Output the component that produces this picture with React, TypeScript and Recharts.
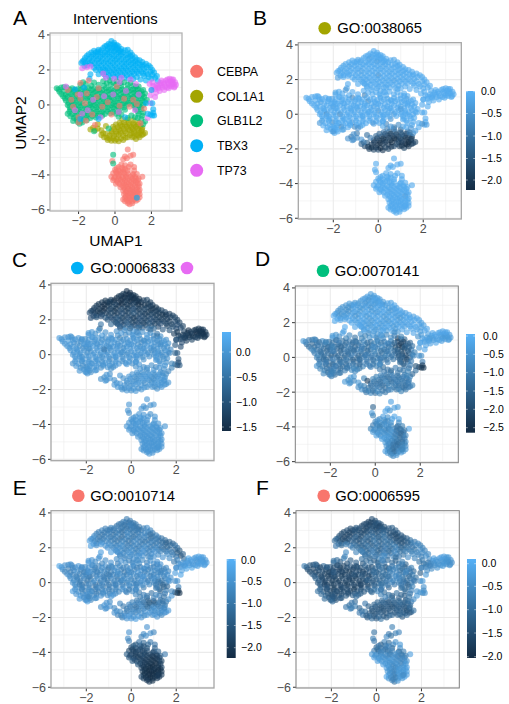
import React from "react";
import { ScatterChart, Scatter, XAxis, YAxis, CartesianGrid } from "recharts";

// Row layout: [UMAP1, UMAP2, GO:0038065, GO:0006833, GO:0070141, GO:0010714, GO:0006595]
type Row = number[];
const interventions = ["CEBPA", "COL1A1", "GLB1L2", "TBX3", "TP73"];
const interventionColors = ["#F8766D", "#A3A500", "#00BF7D", "#00B0F6", "#E76BF3"];

const tbx3: Row[] = [
[-0.2,3.65,-0.1,-1.5,-0.4,-0.9,-1.5],[-0.05,3.55,-0.1,-1.5,-0.3,-0.8,-1.4],
[-0.45,3.4,-0.1,-1.4,-0.5,-1.0,-1.6],[-0.25,3.45,-0.1,-1.5,-0.4,-0.9,-1.7],[0,3.4,-0.1,-1.5,-0.3,-0.8,-1.5],[0.2,3.35,-0.1,-1.4,-0.4,-0.9,-1.4],
[-0.9,3.15,-0.2,-1.3,-0.5,-0.7,-1.3],[-0.65,3.25,-0.1,-1.5,-0.6,-1.0,-1.6],[-0.4,3.2,-0.5,-1.5,-0.3,-0.9,-1.5],[-0.15,3.25,-0.1,-1.5,-0.5,-0.7,-1.7],[0.1,3.2,-0.1,-1.4,-0.2,-1.1,-1.6],[0.35,3.2,-0.1,-1.5,-0.4,-0.9,-1.4],[0.7,3.15,-0.2,-1.2,-0.3,-0.6,-1.2],
[-1.3,3.0,-0.1,-1.4,-0.5,-0.7,-1.4],[-1.05,3.0,-0.1,-1.5,-0.6,-0.9,-1.6],[-0.8,3.0,-0.2,-1.4,-0.4,-1.0,-1.5],[-0.55,3.0,-0.1,-1.5,-0.2,-0.8,-1.7],[-0.3,3.0,-0.1,-1.3,-0.5,-0.9,-1.3],[-0.05,3.05,-0.6,-1.5,-0.3,-1.1,-1.6],[0.2,3.0,-0.1,-1.4,-0.2,-0.8,-1.5],[0.45,3.0,-0.1,-1.5,-0.4,-0.9,-1.3],[0.75,2.9,-0.1,-1.4,-0.2,-0.7,-1.4],[0.95,2.85,-0.1,-1.3,-0.3,-0.9,-1.2],
[-1.55,2.8,-0.2,-1.3,-0.5,-0.8,-1.5],[-1.3,2.75,-0.3,-1.5,-0.7,-1.0,-1.7],[-1.05,2.8,-0.1,-1.4,-0.4,-0.8,-1.6],[-0.8,2.75,-0.1,-1.2,-0.3,-1.1,-1.3],[-0.55,2.8,-0.1,-1.5,-0.6,-0.7,-1.5],[-0.3,2.75,-0.1,-1.3,-0.3,-0.9,-1.1],[-0.05,2.8,-0.1,-1.4,-0.1,-0.8,-1.4],[0.2,2.75,-0.2,-1.2,-0.4,-1.0,-1.0],[0.45,2.75,-0.1,-1.4,-0.2,-0.7,-1.2],[0.7,2.7,-0.1,-1.3,-0.5,-0.9,-1.5],[0.95,2.65,-0.1,-1.5,-0.2,-1.1,-1.6],[1.2,2.6,-0.1,-1.3,-0.3,-0.8,-1.4],
[-1.7,2.55,-0.1,-1.3,-0.4,-0.4,-1.3],[-1.5,2.5,-0.2,-1.4,-0.6,-0.7,-1.6],[-1.25,2.5,-0.1,-1.5,-0.5,-0.9,-1.4],[-1,2.55,-0.1,-1.2,-0.2,-0.6,-1.2],[-0.75,2.5,-0.3,-1.4,-0.4,-0.9,-1.5],[-0.5,2.5,-0.1,-1.1,-0.3,-1.1,-1.0],[-0.25,2.5,-0.1,-1.4,-0.2,-0.8,-1.3],[0,2.55,-0.1,-1.0,-0.5,-1.0,-0.9],[0.25,2.5,-0.1,-1.3,-0.2,-0.7,-1.1],[0.5,2.45,-0.2,-1.2,-0.4,-0.9,-0.8],[0.75,2.45,-0.1,-1.4,-0.2,-1.0,-1.3],[1,2.4,-0.1,-1.3,-0.5,-0.7,-1.5],[1.25,2.4,-0.1,-1.4,-0.3,-1.0,-1.4],[1.5,2.45,-0.1,-1.2,-0.2,-1.1,-0.9],[1.7,2.35,-0.1,-1.3,-0.3,-1.2,-0.8],
[-1.85,2.4,-0.1,-1.1,-0.1,-0.3,-1.0],[-1.55,2.25,-0.1,-1.2,-0.4,-0.8,-1.2],[-1.3,2.3,-0.1,-1.0,-0.3,-0.4,-1.3],[-1.0,2.25,-0.1,-1.2,-0.2,-0.5,-0.9],[-0.75,2.25,-0.2,-1.3,-0.4,-0.8,-1.4],[-0.5,2.2,-0.1,-1.0,-0.2,-0.6,-1.0],[-0.25,2.25,-0.1,-1.3,-0.5,-0.9,-1.3],[0,2.25,-0.7,-1.2,-0.3,-1.0,-0.8],[0.25,2.2,-0.1,-1.3,-0.2,-0.6,-1.2],[0.5,2.2,-0.1,-1.1,-0.5,-0.9,-1.0],[0.75,2.2,-0.1,-1.3,-0.2,-0.7,-0.7],[1,2.15,-0.1,-1.2,-0.4,-1.0,-1.2],[1.25,2.15,-0.1,-1.3,-0.3,-0.8,-1.3],[1.5,2.2,-0.1,-1.4,-0.1,-1.2,-1.0],[1.75,2.15,-0.1,-1.3,-0.2,-1.1,-0.6],[1.95,2.15,-0.1,-1.2,-0.3,-0.9,-0.7],
[-1.05,2.0,-0.1,-0.9,-0.1,-0.4,-0.7],[-0.8,2,-0.1,-1.1,-0.3,-0.7,-0.9],[-0.55,2,-0.1,-0.9,-0.2,-0.5,-1.2],[-0.3,1.95,-0.1,-1.2,-0.4,-0.8,-1.0],[-0.05,2,-0.1,-1.0,-0.2,-0.6,-0.7],[0.2,1.95,-0.1,-1.3,-0.5,-0.9,-1.3],[0.45,1.95,-0.1,-1.1,-0.3,-0.5,-0.8],[0.7,1.95,-0.3,-1.2,-0.2,-0.8,-1.1],[0.95,1.9,-0.1,-1.1,-0.4,-0.6,-0.6],[1.2,1.9,-0.1,-1.3,-0.2,-0.9,-1.0],[1.45,1.9,-0.1,-1.2,-0.3,-1.2,-0.8],[1.7,1.9,-0.1,-1.3,-0.1,-1.0,-0.9],[1.95,1.9,-0.1,-1.1,-0.2,-1.3,-0.5],[2.15,1.85,-0.1,-1.2,-0.3,-1.5,-0.6],
[-1.35,1.75,-0.1,-0.5,-0.1,-0.3,-0.5],[-1.4,1.5,-0.2,-0.7,-0.2,-0.4,-0.6],[-0.9,1.75,-0.1,-0.7,-0.2,-0.3,-0.6],[-0.6,1.75,-0.1,-0.9,-0.3,-0.5,-0.8],[-0.35,1.7,-0.1,-1.1,-0.4,-0.7,-1.1],[-0.1,1.75,-0.1,-0.8,-0.2,-0.4,-0.6],[0.15,1.7,-0.1,-1.1,-0.5,-0.8,-1.2],[0.4,1.7,-0.1,-1.0,-0.3,-0.5,-0.7],[0.65,1.7,-0.1,-1.2,-0.2,-0.7,-1.0],[0.9,1.65,-0.1,-0.9,-0.4,-0.5,-0.5],[1.2,1.6,-0.1,-1.1,-0.2,-0.6,-0.9],[1.6,1.65,-0.1,-1.2,-0.2,-0.6,-0.5],[1.85,1.6,-0.1,-1.0,-0.3,-0.8,-0.6],[2.2,1.55,-0.1,-1.1,-0.2,-1.7,-0.4],[2.35,1.35,-0.1,-1.2,-0.3,-1.2,-0.5],
];

const tbx3Extra: Row[] = [
[-0.35,3.5,-0.1,-1.4,-0.3,-0.8,-1.6],[-0.1,3.45,-0.1,-1.5,-0.4,-1.0,-1.5],[0.1,3.42,-0.1,-1.4,-0.3,-0.9,-1.3],
[-0.75,3.12,-0.1,-1.5,-0.4,-0.8,-1.4],[-0.55,3.35,-0.1,-1.4,-0.3,-0.9,-1.5],[-0.3,3.3,-0.1,-1.5,-0.5,-1.0,-1.6],[-0.05,3.3,-0.1,-1.4,-0.2,-0.8,-1.4],[0.15,3.25,-0.1,-1.5,-0.3,-0.9,-1.6],[0.32,3.05,-0.1,-1.4,-0.6,-1.1,-1.4],[0.55,3.12,-0.1,-1.3,-0.3,-0.8,-1.3],
[-1.15,3.1,-0.1,-1.4,-0.4,-0.8,-1.5],[-0.95,3.05,-0.1,-1.3,-0.3,-0.9,-1.4],[-0.45,3.1,-0.1,-1.5,-0.5,-0.9,-1.6],[-0.2,3.12,-0.1,-1.4,-0.3,-1.0,-1.4],[0.02,3.12,-0.1,-1.5,-0.4,-0.8,-1.5],[0.25,3.1,-0.1,-1.4,-0.2,-0.9,-1.3],[0.85,3.0,-0.1,-1.3,-0.2,-0.7,-1.3],
[-1.45,2.9,-0.1,-1.4,-0.5,-0.8,-1.5],[-1.2,2.88,-0.1,-1.5,-0.6,-0.9,-1.6],[-0.95,2.9,-0.1,-1.4,-0.3,-0.8,-1.4],[-0.68,2.88,-0.1,-1.3,-0.4,-0.9,-1.5],[-0.42,2.9,-0.1,-1.5,-0.3,-1.0,-1.4],[-0.18,2.88,-0.1,-1.4,-0.5,-0.7,-1.2],[0.08,2.9,-0.1,-1.3,-0.3,-0.9,-1.3],[0.32,2.88,-0.1,-1.5,-0.2,-0.8,-1.1],[0.6,2.85,-0.1,-1.4,-0.4,-0.7,-1.4],[0.85,2.78,-0.1,-1.3,-0.3,-1.0,-1.5],[1.1,2.72,-0.1,-1.4,-0.2,-0.8,-1.3],
[-1.65,2.68,-0.1,-1.3,-0.6,-0.6,-1.4],[-1.42,2.62,-0.1,-1.4,-0.5,-0.9,-1.6],[-1.18,2.65,-0.1,-1.5,-0.6,-0.8,-1.5],[-0.92,2.62,-0.1,-1.3,-0.3,-0.9,-1.2],[-0.68,2.65,-0.1,-1.4,-0.4,-0.8,-1.4],[-0.42,2.62,-0.1,-1.2,-0.2,-1.0,-1.1],[-0.15,2.65,-0.1,-1.3,-0.4,-0.7,-1.0],[0.1,2.62,-0.1,-1.1,-0.3,-0.9,-1.2],[0.35,2.62,-0.1,-1.3,-0.2,-0.8,-0.9],[0.6,2.6,-0.1,-1.2,-0.4,-0.7,-1.3],[0.88,2.55,-0.1,-1.4,-0.3,-1.0,-1.5],[1.12,2.5,-0.1,-1.3,-0.2,-0.9,-1.4],[1.35,2.55,-0.1,-1.2,-0.3,-1.0,-1.2],[1.55,2.3,-0.1,-1.3,-0.2,-1.3,-0.7],
[-1.78,2.5,-0.1,-1.2,-0.3,-0.5,-1.1],[-1.62,2.38,-0.1,-1.3,-0.5,-0.7,-1.4],[-1.38,2.4,-0.1,-1.4,-0.4,-0.8,-1.5],[-1.12,2.38,-0.1,-1.3,-0.3,-0.7,-1.2],[-0.88,2.4,-0.1,-1.2,-0.5,-0.8,-1.3],[-0.62,2.38,-0.1,-1.3,-0.2,-0.9,-1.1],[-0.38,2.38,-0.1,-1.1,-0.4,-0.7,-1.2],[-0.12,2.4,-0.1,-1.2,-0.2,-0.9,-0.9],[0.12,2.38,-0.1,-1.0,-0.3,-0.7,-1.1],[0.38,2.35,-0.1,-1.2,-0.4,-0.8,-0.9],[0.62,2.35,-0.1,-1.3,-0.2,-0.9,-1.0],[0.88,2.32,-0.1,-1.2,-0.3,-0.8,-1.3],[1.12,2.28,-0.1,-1.3,-0.4,-0.9,-1.4],[1.38,2.3,-0.1,-1.4,-0.2,-1.1,-1.2],[1.6,2.05,-0.1,-1.3,-0.2,-1.2,-0.8],[1.85,2.25,-0.1,-1.2,-0.2,-1.2,-0.6],[2.05,2.0,-0.1,-1.2,-0.3,-1.1,-0.6],
[-1.68,2.22,-0.1,-1.1,-0.2,-0.4,-1.0],[-1.15,2.12,-0.1,-1.0,-0.2,-0.5,-0.8],[-0.9,2.12,-0.1,-1.1,-0.3,-0.6,-1.0],[-0.65,2.1,-0.1,-1.0,-0.2,-0.7,-1.1],[-0.4,2.1,-0.1,-1.2,-0.3,-0.6,-0.9],[-0.15,2.12,-0.1,-1.1,-0.4,-0.8,-1.1],[0.1,2.1,-0.1,-1.3,-0.2,-0.7,-1.0],[0.35,2.08,-0.1,-1.1,-0.3,-0.8,-0.8],[0.6,2.08,-0.1,-1.2,-0.4,-0.6,-0.9],[0.85,2.05,-0.1,-1.1,-0.2,-0.8,-0.7],[1.1,2.02,-0.1,-1.2,-0.3,-0.7,-1.1],[1.35,2.02,-0.1,-1.3,-0.2,-1.0,-0.9],
[-0.7,1.88,-0.1,-1.0,-0.2,-0.5,-0.9],[-0.45,1.85,-0.1,-1.1,-0.3,-0.6,-1.0],[-0.2,1.85,-0.1,-0.9,-0.4,-0.7,-0.8],[0.05,1.85,-0.1,-1.2,-0.2,-0.6,-1.1],[0.3,1.82,-0.1,-1.1,-0.3,-0.7,-0.8],[0.55,1.82,-0.1,-1.2,-0.2,-0.5,-1.0],[0.8,1.8,-0.1,-1.0,-0.4,-0.7,-0.6],[1.05,1.78,-0.1,-1.2,-0.2,-0.5,-0.9],[1.3,1.78,-0.1,-1.1,-0.3,-0.7,-0.7],[1.55,1.78,-0.1,-1.2,-0.2,-0.8,-0.7],[1.8,1.75,-0.1,-1.2,-0.2,-0.9,-0.6],[2.05,1.72,-0.1,-1.1,-0.3,-1.4,-0.5],[2.3,1.65,-0.1,-1.2,-0.2,-1.3,-0.5],
[-0.5,1.62,-0.1,-0.8,-0.3,-0.5,-0.8],[-0.25,1.55,-0.1,-0.7,-0.2,-0.6,-0.7],[0,1.6,-0.1,-0.9,-0.4,-0.5,-0.9],[0.25,1.55,-0.1,-0.8,-0.3,-0.6,-0.6],[0.5,1.55,-0.1,-0.9,-0.4,-0.5,-0.8],[0.75,1.5,-0.1,-0.6,-0.2,-0.7,-0.6],[1.0,1.48,-0.1,-0.7,-0.5,-0.5,-0.8],[1.4,1.45,-0.1,-0.9,-0.3,-0.5,-0.5],[1.7,1.4,-0.1,-1.0,-0.2,-0.6,-0.6],[2.0,1.5,-0.1,-1.1,-0.3,-1.0,-0.6],
];

const glb1l2: Row[] = [
[-0.65,1.35,-0.1,-0.1,-0.6,-0.6,-0.9],[-0.3,1.4,-0.1,-0.1,-0.7,-0.7,-1.1],[0.1,1.35,-0.1,0,-0.5,-0.5,-0.7],[0.5,1.3,-0.1,-0.1,-0.8,-0.6,-1.0],
[-1.9,1.15,-0.1,0,-0.5,-0.4,-1.1],[-1.6,1.2,-0.1,-0.1,-0.7,-0.6,-1.3],[-1.3,1.1,-0.1,0.1,-0.9,-0.7,-1.4],[-0.9,1.15,-0.1,0,-1.2,-0.5,-1.2],[-0.6,1.1,-0.8,-0.1,-0.9,-0.8,-1.3],[-0.25,1.15,-0.1,-0.2,-0.6,-0.6,-0.9],[0.05,1.15,-0.1,0,-0.8,-0.7,-1.1],[0.35,1.1,-0.1,-0.1,-0.6,-0.6,-0.8],[0.7,1.15,-0.1,0,-0.7,-0.8,-1.0],[1.0,1.1,-0.1,-0.2,-2.4,-0.6,-0.9],[1.3,1.05,-0.1,-0.1,-1.5,-0.5,-1.1],
[-3.2,0.95,-0.1,0.1,-0.4,-0.2,-0.7],[-2.95,1.0,-0.1,0,-1.0,-0.5,-1.3],[-2.65,1.0,-0.1,-0.1,-1.2,-0.7,-1.5],[-2.35,0.95,-0.1,0,-0.6,-0.4,-1.0],[-2.05,0.9,-0.3,-0.1,-1.1,-0.6,-1.3],[-1.75,1.0,-0.1,0.1,-1.3,-0.5,-1.5],[-1.45,0.95,-0.1,0,-1.2,-0.7,-1.6],[-1.15,0.95,-0.7,-0.1,-1.0,-0.5,-1.3],[-0.85,0.9,-0.1,-0.1,-1.4,-0.8,-1.5],[-0.5,0.95,-0.1,-0.3,-0.8,-0.6,-1.1],[-0.2,0.9,-0.1,0,-1.1,-0.7,-1.4],[0.1,0.95,-0.1,-0.1,-0.7,-0.5,-0.9],[0.4,0.9,-0.2,-0.1,-1.0,-0.8,-1.3],[0.7,0.95,-0.1,0,-0.8,-0.5,-0.8],[1.0,0.9,-0.1,-0.2,-2.0,-0.7,-0.7],[1.25,0.9,-0.3,-0.1,-2.2,-0.5,-1.2],[1.55,0.85,-0.1,-0.1,-1.4,-0.6,-0.7],
[-3.05,0.75,-0.1,0,-1.2,-0.6,-1.5],[-2.8,0.8,-0.1,0.1,-1.4,-0.8,-1.6],[-2.55,0.7,-0.3,0,-1.0,-0.5,-1.3],[-2.25,0.75,-0.1,-0.1,-1.3,-0.7,-1.6],[-1.95,0.7,-0.1,0,-0.9,-0.5,-1.4],[-1.65,0.75,-0.1,-0.1,-1.4,-0.8,-1.6],[-1.35,0.7,-0.1,0,-1.2,-0.6,-1.7],[-1.05,0.75,-0.1,-0.1,-1.0,-0.7,-1.5],[-0.75,0.7,-0.1,0.1,-1.3,-0.5,-1.6],[-0.45,0.75,-0.7,0,-0.9,-0.8,-1.4],[-0.15,0.7,-0.1,-0.1,-1.2,-0.6,-1.2],[0.15,0.75,-0.1,0,-0.8,-0.7,-1.0],[0.45,0.7,-0.1,-0.2,-1.0,-0.5,-1.2],[0.75,0.75,-0.1,-0.1,-1.2,-0.8,-0.6],[1.05,0.7,-0.1,0,-2.3,-0.6,-0.9],[1.35,0.7,-0.1,-0.1,-1.8,-0.9,-0.7],[1.65,0.65,-0.1,-0.1,-1.2,-0.7,-1.0],
[-2.85,0.5,-0.1,0,-0.8,-0.5,-1.2],[-2.6,0.45,-0.1,0,-1.1,-0.7,-1.5],[-2.3,0.5,-0.1,-0.1,-1.4,-0.9,-1.7],[-2.0,0.45,-0.5,0,-1.2,-0.6,-1.6],[-1.7,0.5,-0.1,0.1,-1.5,-0.8,-1.5],[-1.4,0.45,-0.1,0,-1.1,-0.6,-1.7],[-1.1,0.5,-0.1,-0.1,-1.3,-0.9,-1.6],[-0.8,0.45,-0.1,0,-1.0,-0.7,-1.4],[-0.5,0.5,-0.1,-0.1,-1.4,-0.6,-1.6],[-0.2,0.45,-0.3,0,-1.1,-0.8,-1.3],[0.1,0.5,-0.1,0,-0.9,-0.5,-1.1],[0.4,0.45,-0.1,-0.1,-1.2,-0.7,-0.9],[0.7,0.5,-0.1,0,-0.9,-0.6,-0.6],[1.0,0.45,-0.2,-0.1,-1.7,-0.8,-0.8],[1.3,0.5,-0.1,0,-2.3,-0.6,-1.0],[1.6,0.45,-0.1,-0.1,-1.0,-0.5,-0.7],[1.75,0.3,-0.1,-0.2,-0.9,-0.5,-0.9],
[-2.7,0.25,-0.1,0,-1.0,-0.6,-1.1],[-2.4,0.2,-0.1,0.1,-1.3,-0.8,-1.5],[-2.1,0.25,-0.1,0,-1.1,-0.7,-1.6],[-1.8,0.2,-0.1,-0.1,-1.4,-0.9,-1.7],[-1.5,0.25,-0.1,0,-1.2,-0.6,-1.5],[-1.2,0.2,-0.1,0,-1.5,-0.8,-1.7],[-0.9,0.25,-0.3,-0.1,-1.0,-0.7,-1.6],[-0.6,0.2,-0.1,0,-1.3,-0.9,-1.5],[-0.3,0.25,-0.1,0.1,-1.1,-0.6,-1.4],[0,0.2,-0.6,0,-0.9,-0.8,-1.2],[0.3,0.25,-0.1,-0.1,-1.3,-0.6,-1.0],[0.6,0.2,-0.1,0,-1.0,-0.7,-0.7],[0.9,0.25,-0.1,-0.2,-1.2,-0.5,-0.5],[1.2,0.2,-0.1,-0.1,-2.1,-0.8,-1.1],[1.5,0.25,-0.1,0,-1.4,-0.6,-0.8],
[-2.6,0,-0.1,0,-0.9,-0.5,-1.3],[-2.3,0.02,-0.8,-0.1,-1.2,-0.8,-1.6],[-2.0,-0.03,-0.1,0,-1.4,-0.9,-1.7],[-1.7,0,-0.9,0,-1.1,-0.7,-1.6],[-1.4,-0.02,-0.1,-0.1,-1.5,-1.0,-1.7],[-1.1,0,-0.1,0,-1.2,-0.7,-1.5],[-0.8,-0.03,-0.1,0.1,-1.4,-0.8,-1.7],[-0.5,0.02,-0.1,0,-1.0,-0.6,-1.5],[-0.2,0,-0.1,-0.1,-1.2,-0.9,-1.3],[0.1,-0.03,-0.1,0,-0.9,-0.6,-1.1],[0.4,0,-0.2,-0.1,-1.3,-0.7,-0.9],[0.7,0.02,-0.4,0,-1.0,-0.5,-0.5],[1.0,0,-0.1,-0.1,-1.4,-0.7,-0.6],[1.3,-0.02,-0.1,-0.2,-1.9,-1.4,-1.2],[1.55,0,-0.1,-0.1,-1.6,-0.8,-0.7],
[-2.45,-0.25,-0.1,0,-1.0,-0.6,-1.2],[-2.15,-0.25,-0.1,0,-1.3,-0.8,-1.6],[-1.85,-0.28,-0.1,-0.1,-1.1,-0.9,-1.7],[-1.55,-0.25,-0.1,0,-1.4,-0.7,-1.5],[-1.25,-0.22,-0.1,0,-1.2,-1.0,-1.6],[-0.95,-0.25,-0.1,-0.4,-1.5,-0.7,-1.7],[-0.65,-0.28,-0.1,0,-1.0,-0.8,-1.5],[-0.35,-0.25,-0.1,0,-1.2,-0.5,-1.4],[-0.05,-0.22,-0.1,-0.1,-0.9,-0.7,-1.0],[0.25,-0.25,-0.1,0,-1.2,-0.6,-0.7],[0.55,-0.28,-0.5,-0.1,-1.0,-0.9,-1.1],[1.15,-0.25,-0.1,0,-2.0,-1.0,-0.9],[1.45,-0.25,-0.1,-0.1,-1.3,-1.5,-1.1],
[-2.6,-0.5,-0.4,-0.1,-0.5,-0.3,-0.9],[-2.35,-0.52,-0.1,0,-1.1,-0.6,-1.4],[-2.05,-0.48,-0.7,0,-1.4,-0.8,-1.6],[-1.75,-0.5,-0.1,-0.1,-1.2,-0.7,-1.7],[-1.45,-0.52,-0.1,0,-1.3,-0.9,-1.5],[-1.15,-0.48,-0.4,0,-1.0,-0.6,-1.6],[-0.85,-0.5,-0.1,-0.1,-1.2,-0.8,-1.4],[-0.55,-0.52,-0.1,0,-0.9,-0.7,-1.3],[-0.25,-0.48,-0.3,0,-0.8,-0.5,-1.0],[0.05,-0.5,-0.1,-0.1,-0.9,-0.6,-0.6],[0.35,-0.55,-0.7,0,-1.3,-0.9,-1.0],[1.3,-0.5,-0.2,0,-1.2,-1.3,-1.1],[1.55,-0.45,-0.1,-0.1,-1.0,-0.9,-0.6],
[-2.25,-0.75,-0.1,-0.1,-0.9,-0.3,-1.1],[-1.95,-0.78,-0.1,0,-1.3,-0.6,-1.5],[-1.65,-0.72,-0.9,0,-1.1,-0.7,-1.5],[-1.35,-0.75,-0.1,-0.1,-1.0,-0.5,-1.3],[-1.05,-0.72,-0.7,0,-0.8,-0.6,-1.2],
[-2.05,-0.98,-0.1,0,-1.1,-0.5,-1.2],[-1.8,-1.0,-0.1,-0.1,-1.3,-0.7,-1.4],[-2.3,-0.92,-0.1,0,-0.8,-0.4,-1.0],[-1.95,-1.08,-0.1,0,-1.0,-0.3,-1.0],
[0.9,-0.6,-0.6,-0.1,-1.0,-1.0,-0.9],[1.1,-0.7,-0.2,-0.2,-1.2,-0.7,-1.1],[0.7,-0.75,-0.9,-0.1,-1.4,-0.9,-1.2],
[-1.15,-1.5,-0.5,0,-0.6,-0.5,-0.7],[-0.35,-1.35,-0.9,-0.1,-2.2,-0.9,-1.2],[1.55,-1.1,-0.6,-0.1,-0.8,-0.9,-0.8],[1.65,-0.95,-0.3,-0.2,-1.4,-0.6,-0.5],
[-0.1,-2.85,-0.1,0,-1.5,-0.5,-0.9],[-0.1,-3.35,-0.1,-0.1,-0.9,-0.8,-0.8],
];

const glb1l2Extra: Row[] = [
[-1.75,1.3,-0.1,0,-0.6,-0.5,-1.0],[-1.15,1.28,-0.1,-0.1,-0.8,-0.6,-1.2],[-0.45,1.25,-0.1,0,-0.9,-0.5,-1.0],[-0.1,1.27,-0.1,-0.1,-0.5,-0.7,-1.2],[0.3,1.25,-0.1,0,-0.7,-0.6,-0.8],[0.85,1.25,-0.1,-0.1,-1.0,-0.5,-1.1],[1.15,1.05,-0.1,-0.2,-1.7,-0.7,-0.8],
[-3.1,0.88,-0.1,0,-0.8,-0.4,-1.2],[-2.8,1.02,-0.1,0,-1.1,-0.6,-1.4],[-2.5,0.88,-0.1,0,-1.3,-0.5,-1.6],[-2.2,0.85,-0.1,-0.1,-0.9,-0.7,-1.4],[-1.9,0.85,-0.1,0,-1.2,-0.5,-1.5],[-1.6,0.85,-0.1,0,-1.0,-0.8,-1.7],[-1.3,0.85,-0.1,-0.1,-1.3,-0.6,-1.5],[-1.0,0.85,-0.1,0,-1.4,-0.9,-1.6],[-0.7,0.85,-0.1,0,-1.1,-0.6,-1.4],[-0.35,0.85,-0.1,-0.1,-1.3,-0.7,-1.3],[-0.05,0.82,-0.1,0,-0.9,-0.6,-1.1],[0.25,0.85,-0.1,0,-1.1,-0.8,-0.9],[0.55,0.82,-0.1,-0.1,-0.7,-0.5,-1.1],[0.85,0.85,-0.1,0,-1.5,-0.7,-0.7],[1.15,0.8,-0.1,-0.1,-2.1,-0.6,-0.9],[1.45,0.78,-0.1,0,-1.6,-0.8,-0.8],
[-2.95,0.62,-0.1,0,-1.2,-0.7,-1.5],[-2.7,0.6,-0.1,0,-1.3,-0.8,-1.6],[-2.4,0.62,-0.1,-0.1,-1.1,-0.6,-1.5],[-2.1,0.6,-0.1,0,-1.4,-0.9,-1.7],[-1.8,0.62,-0.1,0,-1.2,-0.6,-1.6],[-1.5,0.6,-0.1,-0.1,-1.5,-0.9,-1.6],[-1.2,0.62,-0.1,0,-1.1,-0.7,-1.7],[-0.9,0.6,-0.1,0,-1.4,-0.8,-1.5],[-0.6,0.62,-0.1,-0.1,-1.0,-0.6,-1.6],[-0.3,0.6,-0.1,0,-1.3,-0.9,-1.3],[0,0.6,-0.1,0,-1.0,-0.7,-1.2],[0.3,0.58,-0.1,-0.1,-0.8,-0.5,-0.9],[0.6,0.62,-0.1,0,-1.2,-0.8,-0.7],[0.9,0.58,-0.1,0,-1.9,-0.6,-0.6],[1.2,0.6,-0.1,-0.1,-2.4,-0.7,-0.9],[1.5,0.58,-0.1,0,-1.5,-0.6,-0.8],
[-2.75,0.38,-0.1,0,-0.9,-0.6,-1.3],[-2.45,0.35,-0.1,0,-1.2,-0.8,-1.6],[-2.15,0.38,-0.1,-0.1,-1.4,-0.7,-1.7],[-1.85,0.35,-0.1,0,-1.1,-0.9,-1.6],[-1.55,0.38,-0.1,0,-1.5,-0.7,-1.7],[-1.25,0.35,-0.1,-0.1,-1.2,-0.8,-1.5],[-0.95,0.38,-0.1,0,-1.4,-0.6,-1.7],[-0.65,0.35,-0.1,0,-1.1,-0.8,-1.4],[-0.35,0.38,-0.1,-0.1,-1.3,-0.7,-1.5],[-0.05,0.35,-0.1,0,-0.9,-0.6,-1.1],[0.25,0.38,-0.1,0,-1.2,-0.7,-1.0],[0.55,0.35,-0.1,-0.1,-1.0,-0.5,-0.8],[0.85,0.38,-0.1,0,-1.4,-0.8,-0.5],[1.15,0.35,-0.1,0,-1.8,-0.6,-0.7],[1.45,0.38,-0.1,-0.1,-1.7,-0.7,-1.0],[1.65,0.15,-0.1,0,-1.1,-0.6,-0.8],
[-2.55,0.12,-0.1,0,-0.9,-0.6,-1.3],[-2.25,0.1,-0.1,0,-1.3,-0.8,-1.6],[-1.95,0.12,-0.1,-0.1,-1.5,-0.9,-1.7],[-1.35,0.1,-0.1,0,-1.3,-0.7,-1.6],[-1.05,0.12,-0.1,-0.1,-1.0,-0.9,-1.7],[-0.75,0.1,-0.1,0,-1.4,-0.7,-1.6],[-0.45,0.12,-0.1,0,-1.2,-0.8,-1.5],[-0.15,0.1,-0.1,-0.1,-1.0,-0.6,-1.3],[0.15,0.12,-0.1,0,-1.2,-0.7,-1.1],[0.45,0.1,-0.1,0,-0.9,-0.5,-0.8],[0.75,0.12,-0.1,-0.1,-1.2,-0.8,-0.6],[1.05,0.1,-0.1,0,-1.7,-0.7,-0.7],[1.35,0.12,-0.1,-0.1,-2.0,-0.9,-1.0],
[-2.5,-0.12,-0.1,0,-1.1,-0.6,-1.3],[-2.2,-0.13,-0.1,-0.1,-1.3,-0.9,-1.6],[-1.9,-0.12,-0.1,0,-1.0,-0.7,-1.7],[-1.6,-0.13,-0.1,0,-1.4,-1.0,-1.6],[-1.3,-0.12,-0.1,-0.1,-1.1,-0.7,-1.7],[-1.0,-0.13,-0.1,0,-1.5,-0.9,-1.6],[-0.7,-0.13,-0.1,0,-1.2,-0.6,-1.6],[-0.4,-0.12,-0.1,-0.1,-1.0,-0.8,-1.5],[-0.1,-0.13,-0.1,0,-1.2,-0.6,-1.2],[0.2,-0.12,-0.1,0,-1.0,-0.8,-0.9],[0.5,-0.13,-0.1,-0.1,-1.2,-0.6,-0.8],[1.1,-0.12,-0.1,0,-1.6,-0.9,-0.8],[1.4,-0.12,-0.1,-0.1,-2.0,-1.2,-1.1],
[-2.5,-0.38,-0.2,0,-0.9,-0.5,-1.1],[-2.2,-0.38,-0.1,-0.1,-1.2,-0.8,-1.5],[-1.9,-0.4,-0.1,0,-1.4,-0.6,-1.7],[-1.6,-0.38,-0.1,0,-1.1,-0.9,-1.6],[-1.3,-0.4,-0.1,-0.1,-1.3,-0.7,-1.5],[-1.0,-0.38,-0.1,0,-1.1,-0.8,-1.7],[-0.7,-0.4,-0.1,0,-1.4,-0.7,-1.4],[-0.4,-0.38,-0.1,-0.1,-1.0,-0.6,-1.2],[-0.1,-0.4,-0.1,0,-1.1,-0.8,-0.9],[0.2,-0.4,-0.1,0,-0.8,-0.5,-0.8],[1.25,-0.38,-0.1,-0.1,-1.7,-1.1,-1.0],[1.5,-0.62,-0.1,0,-1.2,-0.8,-0.8],
[-2.45,-0.65,-0.1,0,-0.9,-0.5,-1.0],[-2.15,-0.63,-0.1,-0.1,-1.2,-0.7,-1.4],[-1.85,-0.65,-0.1,0,-1.0,-0.6,-1.6],[-1.55,-0.63,-0.1,0,-1.3,-0.8,-1.5],[-1.25,-0.63,-0.1,-0.1,-1.1,-0.6,-1.4],[-0.95,-0.62,-0.1,0,-0.9,-0.7,-1.3],[-0.7,-0.62,-0.1,0,-1.2,-0.6,-1.2],[0.2,-0.68,-0.2,-0.1,-1.1,-0.7,-0.7],[1.25,-0.75,-0.1,0,-1.1,-0.8,-1.2],[1.45,-0.8,-0.4,-0.1,-0.9,-1.0,-0.9],
[-2.1,-0.85,-0.1,0,-1.2,-0.6,-1.3],[-1.85,-0.9,-0.1,-0.1,-1.0,-0.6,-1.4],[-1.55,-0.88,-0.3,0,-1.1,-0.5,-1.3],
];

const col1a1: Row[] = [
[-1.35,-1.4,-0.5,-0.1,-0.4,-0.6,-0.8],[-1.2,-1.3,-0.9,-0.1,-0.7,-0.4,-0.9],[-0.95,-1.1,-0.9,-0.1,-0.5,-0.6,-1.0],[-0.95,-1.35,-0.6,0,-0.8,-0.5,-0.7],[-0.75,-1.45,-0.4,-0.1,-0.5,-0.7,-1.1],[-0.5,-1.65,-1.4,0,-0.9,-0.6,-0.9],
[-0.6,-1.85,-1.7,0,-0.6,-0.8,-0.8],[-0.4,-2.0,-1.9,-0.1,-1.1,-0.9,-1.3],[-0.2,-2.05,-1.8,0,-0.8,-0.5,-1.0],[0,-2.05,-1.7,-0.1,-1.2,-0.4,-1.3],[0.2,-2.08,-2.0,0,-0.9,-0.3,-0.9],[0.45,-2.0,-1.8,0,-1.1,-0.5,-1.2],[0.7,-1.85,-1.6,-0.1,-0.8,-0.4,-1.0],[0.95,-1.85,-1.9,0,-1.2,-0.6,-1.1],[1.15,-1.95,-1.8,-0.1,-0.9,-0.5,-1.3],[1.35,-1.85,-2.0,0,-1.1,-0.7,-1.0],[1.55,-1.68,-1.7,-0.1,-1.0,-0.5,-1.2],[1.65,-1.6,-1.8,0,-0.9,-0.4,-0.9],
[-0.3,-1.75,-1.9,0,-1.2,-0.7,-1.3],[-0.05,-1.78,-2.1,-0.1,-0.9,-0.5,-1.4],[0.2,-1.72,-1.9,0,-1.1,-0.8,-1.2],[0.45,-1.75,-2.0,0,-1.3,-0.6,-1.4],[0.9,-1.6,-1.8,-0.1,-1.0,-0.4,-1.2],[1.2,-1.7,-2.1,0,-1.2,-0.5,-1.3],[1.45,-1.5,-1.9,-0.1,-0.9,-0.6,-1.1],
[-0.2,-1.5,-1.7,0,-1.0,-0.9,-1.2],[0.05,-1.52,-2.0,-0.1,-1.4,-0.8,-1.4],[0.3,-1.48,-1.8,0,-1.0,-0.6,-1.3],[0.55,-1.5,-2.1,0,-1.3,-0.9,-1.4],[0.8,-1.45,-1.9,-0.1,-0.9,-0.7,-1.2],[1.05,-1.5,-1.7,0,-1.2,-0.4,-1.3],[1.3,-1.45,-2.0,0,-1.1,-0.7,-1.4],[1.5,-1.3,-1.8,-0.1,-1.0,-0.8,-1.0],
[-0.1,-1.25,-1.2,0,-0.9,-0.7,-1.1],[0.15,-1.28,-1.8,-0.1,-1.2,-0.9,-1.3],[0.4,-1.22,-2.0,0,-1.0,-0.6,-1.2],[0.65,-1.25,-1.7,0,-1.3,-1.2,-1.4],[0.9,-1.28,-1.9,-0.1,-1.1,-1.0,-1.3],[1.15,-1.25,-1.6,0,-0.9,-0.8,-1.1],[1.4,-1.2,-1.8,0,-1.2,-0.9,-1.2],
[0.25,-1.02,-1.0,0,-0.8,-0.9,-1.0],[0.5,-1.0,-1.4,-0.1,-1.1,-0.7,-1.2],[0.75,-1.03,-1.2,0,-1.0,-1.3,-1.1],[1.0,-1.05,-1.6,0,-1.2,-1.7,-1.0],[1.3,-1.0,-1.1,-0.1,-0.9,-1.0,-1.2],
[0.4,-0.82,-0.9,0,-1.0,-0.9,-0.6],[0.7,-0.85,-1.0,-0.1,-0.9,-1.2,-0.9],[1.0,-0.88,-1.3,0,-1.1,-0.8,-1.2],[-0.5,-1.2,-1.1,0,-0.9,-0.7,-0.8],
];

const col1a1Extra: Row[] = [
[-0.45,-1.88,-1.9,0,-1.0,-0.7,-1.2],[-0.3,-1.92,-2.1,-0.1,-0.9,-0.5,-1.1],[-0.1,-1.92,-2.0,0,-1.2,-0.4,-1.3],[0.1,-1.95,-2.2,0,-0.8,-0.5,-1.1],[0.32,-1.92,-1.9,-0.1,-1.1,-0.4,-1.3],[0.58,-1.88,-2.0,0,-1.0,-0.6,-1.1],[0.82,-1.72,-1.8,0,-1.1,-0.5,-1.3],[1.05,-1.82,-2.1,-0.1,-0.9,-0.4,-1.1],[1.28,-1.75,-2.2,0,-1.2,-0.6,-1.2],[1.48,-1.72,-1.9,0,-1.0,-0.5,-1.3],
[-0.18,-1.62,-2.0,-0.1,-1.2,-0.8,-1.4],[0.08,-1.65,-2.2,0,-1.0,-0.6,-1.3],[0.32,-1.6,-2.0,0,-1.3,-0.7,-1.4],[0.6,-1.62,-2.2,-0.1,-0.9,-0.5,-1.3],[1.05,-1.62,-2.0,0,-1.1,-0.6,-1.2],[1.35,-1.6,-2.2,0,-1.2,-0.5,-1.4],
[-0.05,-1.38,-1.8,0,-1.1,-0.8,-1.3],[0.22,-1.4,-2.1,-0.1,-1.2,-1.0,-1.4],[0.48,-1.36,-1.9,0,-0.9,-0.7,-1.3],[0.72,-1.38,-2.2,0,-1.2,-1.1,-1.4],[0.98,-1.38,-1.8,-0.1,-1.0,-0.6,-1.2],[1.22,-1.36,-2.1,0,-1.1,-0.8,-1.3],[1.48,-1.42,-1.9,0,-1.0,-0.7,-1.1],
[0.05,-1.12,-1.3,0,-0.9,-0.7,-1.1],[0.3,-1.14,-1.6,-0.1,-1.1,-0.8,-1.2],[0.55,-1.13,-1.9,0,-1.2,-1.0,-1.3],[0.8,-1.15,-1.8,0,-1.0,-1.4,-1.2],[1.05,-1.16,-1.5,-0.1,-1.1,-1.2,-1.1],[1.25,-1.12,-1.7,0,-1.0,-0.9,-1.2],
[-0.65,-1.62,-0.9,0,-0.8,-0.6,-0.9],[-0.75,-1.72,-1.3,0,-0.7,-0.5,-0.8],[-1.1,-1.45,-0.6,-0.1,-0.6,-0.5,-0.8],
];

const cebpa: Row[] = [
[0.7,-2.55,-0.1,0,-0.3,-0.5,-0.7],[0.55,-2.95,-0.1,0,-0.2,-0.6,-0.8],[0.85,-2.9,-0.1,-0.1,-0.3,-0.5,-0.7],[1.0,-2.85,-0.1,0,-0.4,-0.7,-0.6],[0.45,-3.1,-0.1,0,-0.2,-0.8,-0.5],[0.65,-3.05,-0.1,-0.1,-0.5,-0.6,-0.9],[-0.15,-3.2,-0.1,0,-0.4,-0.6,-0.7],
[0.35,-3.4,-0.1,0,-0.3,-1.0,-0.6],[0.55,-3.45,-0.1,0,-0.6,-1.2,-1.0],[0.85,-3.4,-0.1,-0.1,-0.2,-0.9,-0.4],[1.05,-3.55,-0.1,0,-0.2,-1.0,-0.3],[0.2,-3.55,-0.1,0,-0.7,-1.5,-1.2],[0.4,-3.6,-0.1,0.1,-0.5,-1.3,-0.8],[0.75,-3.55,-0.1,0,-0.3,-1.2,-0.5],
[0,-3.7,-0.1,0,-0.8,-1.6,-1.1],[0.2,-3.75,-0.1,0,-0.5,-1.7,-0.9],[0.45,-3.7,-0.1,0.1,-0.9,-1.4,-0.7],[0.7,-3.75,-0.1,0,-0.4,-1.5,-1.0],[1.05,-3.75,-0.1,0,-0.7,-1.3,-0.4],
[-0.1,-3.9,-0.1,0,-1.0,-1.8,-0.8],[0.1,-3.92,-0.1,0,-0.7,-1.7,-1.1],[0.3,-3.88,-0.1,0.1,-0.9,-1.5,-0.7],[0.5,-3.92,-0.1,0,-0.5,-1.8,-0.9],[0.7,-3.9,-0.1,0,-0.8,-1.6,-0.6],[1.0,-3.95,-0.1,0,-1.1,-1.5,-1.1],[1.2,-3.95,-0.1,0,-0.9,-1.3,-0.7],[1.5,-4.1,-0.1,0,-0.2,-0.9,-0.2],
[-0.2,-4.1,-0.1,0,-0.9,-1.4,-0.3],[0,-4.12,-0.1,0,-0.6,-1.9,-0.4],[0.2,-4.08,-0.1,0.1,-0.9,-1.7,-0.7],[0.4,-4.12,-0.1,0,-0.6,-1.9,-0.5],[0.6,-4.1,-0.1,0,-0.9,-1.6,-0.8],[0.85,-4.12,-0.1,0,-0.7,-1.8,-0.4],[1.1,-4.1,-0.1,0,-1.4,-1.6,-0.9],[1.3,-4.2,-0.1,0,-1.1,-1.3,-0.7],
[-0.1,-4.3,-0.1,0,-0.4,-1.5,-0.2],[0.1,-4.32,-0.1,0,-0.7,-1.7,-0.3],[0.3,-4.28,-0.1,0,-0.4,-1.9,-0.4],[0.55,-4.32,-0.1,0,-0.8,-1.7,-0.6],[0.8,-4.3,-0.1,0.1,-0.5,-1.9,-0.3],[1.05,-4.32,-0.1,0,-1.3,-2.0,-0.8],[1.25,-4.3,-0.1,0,-1.2,-1.7,-0.6],
[0.05,-4.5,-0.1,0,-0.3,-1.4,-0.2],[0.25,-4.52,-0.1,0,-0.6,-1.6,-0.3],[0.5,-4.48,-0.1,0,-0.4,-1.8,-0.2],[0.75,-4.52,-0.1,0,-0.7,-1.9,-0.5],[1.0,-4.5,-0.1,0,-1.1,-2.1,-0.4],[1.25,-4.5,-0.1,0,-1.3,-1.8,-0.6],
[0.3,-4.7,-0.1,0,-0.3,-1.5,-0.2],[0.5,-4.72,-0.1,0,-0.5,-1.9,-0.3],[0.7,-4.68,-0.1,0,-0.3,-2.0,-0.5],[0.95,-4.72,-0.1,0,-0.8,-2.1,-0.3],[1.2,-4.72,-0.9,0,-1.3,-2.2,-0.5],[1.35,-4.85,-0.1,0,-0.6,-1.7,-0.2],
[0.45,-4.9,-0.1,0,-0.4,-1.8,-0.2],[0.65,-4.92,-0.1,0,-0.7,-2.1,-0.4],[0.85,-4.88,-0.1,0,-1.0,-2.2,-0.7],[1.05,-4.92,-0.1,0,-1.3,-2.0,-0.3],[1.3,-4.95,-0.1,0,-0.9,-2.1,-0.2],
[0.5,-5.1,-0.1,0,-0.5,-1.9,-0.3],[0.7,-5.12,-0.1,0,-0.9,-2.2,-0.8],[0.9,-5.08,-0.1,0,-1.2,-2.1,-0.4],[1.1,-5.12,-0.1,0,-1.4,-2.2,-0.3],[1.35,-5.1,-0.1,0,-0.7,-2.0,-0.2],
[0.55,-5.3,-0.1,0,-0.6,-2.1,-0.2],[0.75,-5.32,-0.1,0,-1.1,-2.0,-0.5],[0.95,-5.28,-0.1,0,-1.3,-2.2,-0.3],[1.15,-5.32,-0.1,0,-0.8,-2.1,-0.6],[1.35,-5.28,-0.1,0,-0.5,-1.9,-0.2],[0.45,-5.4,-0.1,0,-0.3,-1.7,-0.1],
[0.55,-5.5,-0.1,0,-0.5,-1.9,-0.3],[0.75,-5.52,-0.1,0,-1.0,-2.1,-0.8],[0.95,-5.5,-0.1,0,-0.7,-2.2,-0.2],[1.15,-5.48,-0.1,0,-0.4,-2.0,-0.3],[0.8,-5.68,-0.1,0,-0.8,-2.0,-0.9],[0.95,-5.62,-0.1,0,-0.5,-2.1,-0.3],
];

const cebpaExtra: Row[] = [
[0.1,-3.62,-0.1,0,-0.6,-1.4,-0.8],[0.55,-3.65,-0.1,0,-0.7,-1.6,-0.6],[0.05,-3.82,-0.1,0,-0.8,-1.8,-0.9],[0.4,-3.82,-0.1,0,-0.6,-1.7,-0.8],[0.6,-4.0,-0.1,0,-0.7,-1.8,-0.7],[0.2,-3.98,-0.1,0,-0.9,-1.9,-0.6],[0.95,-4.02,-0.1,0,-1.2,-1.7,-0.5],[1.15,-4.2,-0.1,0,-1.1,-1.9,-0.7],
[-0.05,-4.2,-0.1,0,-0.7,-1.7,-0.4],[0.2,-4.22,-0.1,0,-0.6,-1.9,-0.4],[0.45,-4.2,-0.1,0,-0.8,-1.8,-0.5],[0.7,-4.2,-0.1,0,-0.6,-1.9,-0.5],[0.95,-4.22,-0.1,0,-1.2,-2.0,-0.6],
[0.15,-4.42,-0.1,0,-0.5,-1.7,-0.3],[0.4,-4.4,-0.1,0,-0.6,-1.9,-0.4],[0.65,-4.42,-0.1,0,-0.6,-2.0,-0.3],[0.9,-4.42,-0.1,0,-1.0,-2.1,-0.5],[1.15,-4.4,-0.1,0,-1.4,-2.0,-0.5],[1.35,-4.5,-0.1,0,-0.8,-1.8,-0.4],
[0.4,-4.62,-0.1,0,-0.4,-1.8,-0.3],[0.6,-4.6,-0.1,0,-0.5,-2.0,-0.4],[0.85,-4.62,-0.1,0,-0.9,-2.1,-0.4],[1.1,-4.62,-0.1,0,-1.3,-2.2,-0.6],[1.3,-4.65,-0.1,0,-1.0,-1.9,-0.3],
[0.55,-4.82,-0.1,0,-0.6,-2.0,-0.3],[0.75,-4.8,-0.1,0,-0.8,-2.1,-0.5],[0.95,-4.82,-0.1,0,-1.1,-2.2,-0.4],[1.2,-4.85,-0.1,0,-1.2,-2.1,-0.3],[0.6,-5.0,-0.1,0,-0.7,-2.1,-0.4],[0.8,-5.02,-0.1,0,-1.1,-2.2,-0.5],[1.0,-5.0,-0.1,0,-1.3,-2.1,-0.3],[1.2,-5.02,-0.1,0,-0.9,-2.2,-0.3],
[0.6,-5.2,-0.1,0,-0.8,-2.1,-0.4],[0.8,-5.22,-0.1,0,-1.2,-2.2,-0.6],[1.0,-5.2,-0.1,0,-1.0,-2.2,-0.3],[1.22,-5.2,-0.1,0,-0.8,-2.1,-0.3],[0.65,-5.42,-0.1,0,-0.9,-2.1,-0.5],[0.85,-5.42,-0.1,0,-1.3,-2.2,-0.7],[1.05,-5.4,-0.1,0,-0.7,-2.1,-0.3],[1.25,-5.4,-0.1,0,-0.5,-2.0,-0.2],[0.7,-5.6,-0.1,0,-0.7,-2.0,-0.6],
[-2.05,0.6,-0.1,0,-1.2,-0.7,-1.6],[-1.9,0.35,-0.1,-0.1,-1.0,-0.8,-1.5],[-1.65,0.1,-0.1,0,-1.4,-0.6,-1.7],[-2.3,-0.1,-0.1,0,-1.3,-0.8,-1.6],[-2.0,-0.7,-0.1,-0.1,-1.0,-0.5,-1.4],[-2.0,-1.0,-0.4,0,-0.8,-0.5,-1.1],[-2.6,0.85,-0.1,0,-1.1,-0.7,-1.4],
[-1.9,1.25,-0.2,0,-0.4,-0.4,-0.9],[-1.45,1.4,-0.4,-0.1,-0.3,-0.5,-0.7],[-1.0,0.45,-0.1,-0.1,-1.2,-0.9,-1.4],[-0.7,-0.1,-0.1,0,-1.3,-0.8,-1.6],[-0.4,0.15,-0.1,-0.1,-1.0,-0.6,-1.2],[0.5,0.35,-0.1,0,-1.1,-0.5,-0.9],[0.8,-0.1,-0.1,-0.1,-1.2,-0.7,-0.8],[-0.2,-0.55,-0.3,0,-1.0,-0.8,-1.1],[1.4,-1.05,-0.9,-0.1,-0.9,-1.0,-1.0],[1.6,-0.2,-0.1,-0.1,-1.0,-1.2,-0.7],[1.0,0.3,-0.3,-0.1,-1.6,-0.6,-0.6],[-1.1,-1.15,-0.5,0,-0.5,-0.5,-0.8],
[-1.55,0.65,-0.1,0,-1.3,-0.7,-1.6],[-1.25,-0.55,-0.1,0,-1.1,-0.6,-1.5],[-2.4,0.3,-0.1,0,-1.2,-0.7,-1.5],[0.1,1.05,-0.1,0,-0.8,-0.6,-1.0],[0.25,-0.05,-0.1,0,-1.0,-0.7,-0.9],[-0.9,0.95,-0.1,0,-1.1,-0.6,-1.4],[1.2,0.05,-0.1,0,-1.6,-0.9,-0.8],[-1.6,-0.9,-0.2,0,-1.1,-0.6,-1.3],
];

const tp73: Row[] = [
[3.35,1.15,-0.1,-1.3,-0.5,-0.3,-0.5],[3.3,1.3,-0.1,-1.4,-0.3,-0.4,-0.4],[3.2,1.45,-0.1,-1.3,-0.2,-0.3,-0.3],[3.2,1.2,-0.1,-1.5,-0.4,-0.4,-0.5],[3.1,1.05,-0.1,-1.4,-0.5,-0.3,-0.4],[3.05,1.35,-0.1,-1.5,-0.3,-0.4,-0.3],[3.0,1.5,-0.1,-1.4,-0.2,-0.2,-0.2],[2.95,1.2,-0.1,-1.5,-0.4,-0.5,-0.5],[2.85,1.0,-0.1,-1.3,-0.3,-0.3,-0.3],[2.8,1.4,-0.1,-1.4,-0.2,-0.4,-0.2],[2.7,1.2,-0.1,-1.5,-0.3,-0.3,-0.4],[2.6,1.0,-0.1,-1.3,-0.5,-0.3,-0.5],[2.5,1.25,-0.1,-1.4,-0.3,-0.5,-0.3],[2.4,0.95,-0.1,-1.2,-0.2,-0.3,-0.6],[2.3,1.15,-0.1,-1.4,-0.4,-0.4,-0.8],[2.2,0.9,-0.1,-1.2,-0.3,-0.4,-0.6],[2.1,1.1,-0.1,-1.3,-0.2,-0.6,-1.0],[2.05,1.3,-0.1,-1.4,-0.4,-0.7,-0.7],[2.0,0.85,-0.1,-1.1,-0.3,-0.5,-0.8],[2.45,0.8,-0.1,-1.3,-0.3,-0.2,-0.5],[2.7,0.85,-0.1,-1.2,-0.2,-0.2,-0.4],[1.95,0.55,-0.1,-0.9,-0.4,-0.3,-1.2],[2.2,0.45,-0.1,-1.1,-0.2,-0.2,-0.3],[3.25,1.0,-0.1,-1.4,-0.3,-0.3,-0.4],[1.9,1.2,-0.1,-1.3,-0.6,-0.9,-0.9],[2.55,1.4,-0.1,-1.5,-0.2,-0.2,-0.2],
[3.28,1.05,-0.1,-1.4,-0.4,-0.3,-0.4],[3.15,1.32,-0.1,-1.5,-0.3,-0.4,-0.3],[3.1,1.2,-0.1,-1.4,-0.4,-0.3,-0.4],[2.9,1.3,-0.1,-1.5,-0.3,-0.4,-0.3],[3.0,1.1,-0.1,-1.4,-0.4,-0.3,-0.3],[2.75,1.05,-0.1,-1.4,-0.3,-0.4,-0.4],[2.65,1.3,-0.1,-1.3,-0.2,-0.3,-0.3],[2.55,1.12,-0.1,-1.4,-0.3,-0.4,-0.4],[2.42,1.1,-0.1,-1.3,-0.4,-0.3,-0.5],[2.35,1.0,-0.1,-1.3,-0.3,-0.4,-0.6],[2.2,1.02,-0.1,-1.2,-0.3,-0.4,-0.7],[3.12,1.45,-0.1,-1.4,-0.2,-0.3,-0.3],[2.88,1.45,-0.1,-1.4,-0.2,-0.3,-0.2],[2.95,0.95,-0.1,-1.3,-0.3,-0.3,-0.3],[2.25,0.7,-0.1,-1.1,-0.3,-0.3,-0.5],
[-1.8,2.1,-0.3,-1.1,-0.1,-0.3,-0.8],[-1.55,2.15,-0.1,-1.0,-0.2,-0.5,-1.0],[-1.35,2.2,-0.1,-1.1,-0.3,-0.4,-0.7],[-0.65,1.8,-0.1,-0.9,-0.2,-0.5,-0.7],[-0.5,1.55,-0.1,-0.8,-0.3,-0.7,-0.9],[-0.05,1.5,-0.1,-0.6,-0.4,-0.6,-0.8],[0.35,1.55,-0.1,-0.7,-0.2,-0.5,-0.5],[0.85,1.45,-0.1,-0.6,-0.7,-0.6,-1.0],[0.25,1.3,-0.1,-0.2,-0.4,-0.6,-0.6],[1.15,1.2,-0.1,-0.5,-0.9,-0.5,-0.7],[-1.9,0.6,-0.1,0,-0.9,-0.5,-1.3],[-2.7,1.05,-0.1,0,-0.8,-0.5,-1.1],[-1.2,0.3,-0.1,-0.4,-1.2,-0.8,-1.6],[-0.6,0.5,-0.1,0,-1.0,-0.6,-1.4],[-1.5,-0.3,-0.1,0,-1.1,-0.7,-1.5],[-1.8,-0.5,-0.1,0,-1.0,-0.6,-1.4],[-0.8,-0.7,-0.2,-0.1,-0.9,-0.5,-1.2],[0.2,-0.4,-0.1,0,-0.8,-0.7,-0.8],[0.6,0.8,-0.1,-0.1,-1.0,-0.6,-0.7],[1.1,-0.3,-0.1,0,-1.3,-0.9,-0.9],[1.3,0.6,-0.1,-0.1,-1.5,-0.7,-0.5],[-2.2,-0.3,-0.1,0,-1.0,-0.7,-1.3],[-0.1,0.6,-0.1,0,-0.7,-0.6,-1.0],[1.95,0.1,-0.1,-0.7,-0.5,-0.6,-0.5],[1.8,-0.75,-0.1,-0.3,-1.3,-0.4,-0.3],
];

const tbx3Scattered: Row[] = [
[2.1,-0.25,-0.1,-0.9,-1.0,-0.8,-0.4],[2.05,0.1,-0.1,-0.9,-0.7,-0.5,-0.3],[2.1,-0.45,-0.1,-1.1,-2.3,-1.8,-0.5],[2.05,-0.6,-0.1,-1.2,-2.5,-2.2,-0.7],[2.15,-0.6,-0.3,-0.9,-2.4,-2.1,-0.4],[1.95,-0.55,-0.6,-0.7,-2.2,-1.6,-0.3],[1.8,-0.5,-0.1,-0.3,-1.8,-0.7,-0.4],[-2.2,0.9,-0.1,0,-0.9,-0.5,-1.2],[-1.7,1.0,-0.1,0,-1.0,-0.6,-1.4],[0.55,-0.7,-0.4,-0.1,-1.2,-0.8,-0.9],[-0.9,-0.8,-0.5,-0.1,-0.8,-0.4,-1.0],[-1.9,-0.8,-0.1,0,-0.9,-0.7,-1.3],[1.2,-5.3,-0.1,0,-0.9,-2.0,-0.5],[1.7,0.1,-0.1,-0.2,-0.8,-0.5,-0.8],[2.0,0.85,-0.1,-1.0,-0.2,-0.5,-0.6],
];

// Draw order of the groups, with the index of each in `interventions`
const groups: { rows: Row[]; cat: number }[] = [
  { rows: tbx3, cat: 3 },
  { rows: tbx3Extra, cat: 3 },
  { rows: col1a1, cat: 1 },
  { rows: col1a1Extra, cat: 1 },
  { rows: cebpa, cat: 0 },
  { rows: glb1l2, cat: 2 },
  { rows: glb1l2Extra, cat: 2 },
  { rows: cebpaExtra, cat: 0 },
  { rows: tp73, cat: 4 },
  { rows: tbx3Scattered, cat: 3 },
];

const xDomain = [-3.57, 3.68];
const yDomain = [-6.06, 4.11];
const xTicks = [-2, 0, 2];
const yTicks = [-6, -4, -2, 0, 2, 4];
const xMinor = [-3, -1, 1, 3];
const yMinor = [-5, -3, -1, 1, 3];

const LOW = [0x13, 0x2b, 0x43];
const HIGH = [0x56, 0xb1, 0xf7];
const colorFor = (v: number, lo: number, hi: number) => {
  const t = Math.max(0, Math.min(1, (v - lo) / (hi - lo)));
  const c = LOW.map((l, i) => Math.round(l + (HIGH[i] - l) * t));
  return `rgb(${c[0]},${c[1]},${c[2]})`;
};

const FONT = "'Liberation Sans', Arial, sans-serif";
const minus = (n: number | string) => String(n).replace("-", "\u2212");

interface Bar { x: number; y0: number; y1: number; lo: number; hi: number; labelX: number; labels: [string, number][]; }
interface Panel {
  letter: string; lx: number; ly: number;
  title: string; tx: number; ty: number; dots: [number, number, string][];
  L: number; R: number; T: number; B: number; border: string; bw: number;
  col: number; bar?: Bar;
}
const panels: Panel[] = [
  { letter: "A", lx: 13, ly: 25, title: "Interventions", tx: 73, ty: 24, dots: [], L: 50, R: 182, T: 33, B: 211, border: "#b3b3b3", bw: 1.3, col: -1 },
  { letter: "B", lx: 253, ly: 25, title: "GO:0038065", tx: 337.3, ty: 33, dots: [[324.7, 28.3, interventionColors[1]]], L: 298.3, R: 461.3, T: 42.7, B: 219, border: "#a6a6a6", bw: 1.3, col: 2,
    bar: { x: 466, y0: 91, y1: 190, lo: -2.24, hi: 0.02, labelX: 481, labels: [["0.0", 91.7], ["-0.5", 113.5], ["-1.0", 136], ["-1.5", 158.5], ["-2.0", 180]] } },
  { letter: "C", lx: 12, ly: 266.7, title: "GO:0006833", tx: 90.3, ty: 273, dots: [[77.3, 268, interventionColors[3]], [187, 268, interventionColors[4]]], L: 51, R: 214, T: 283.3, B: 460.7, border: "#a6a6a6", bw: 1.3, col: 3,
    bar: { x: 222, y0: 332, y1: 431, lo: -1.58, hi: 0.4, labelX: 236, labels: [["0.0", 352], ["-0.5", 377], ["-1.0", 402], ["-1.5", 427]] } },
  { letter: "D", lx: 255, ly: 266, title: "GO:0070141", tx: 334.7, ty: 276, dots: [[323, 270.7, interventionColors[2]]], L: 295.3, R: 458.3, T: 286, B: 462.7, border: "#7f7f7f", bw: 1, col: 4,
    bar: { x: 466, y0: 334, y1: 432.7, lo: -2.64, hi: 0.05, labelX: 483, labels: [["0.0", 336], ["-0.5", 354.3], ["-1.0", 372.7], ["-1.5", 391], ["-2.0", 409.3], ["-2.5", 427.7]] } },
  { letter: "E", lx: 12.7, ly: 495, title: "GO:0010714", tx: 90.3, ty: 501, dots: [[78.3, 495.7, interventionColors[0]]], L: 51, R: 214, T: 510.7, B: 688, border: "#a6a6a6", bw: 1.3, col: 5,
    bar: { x: 226.7, y0: 559, y1: 658, lo: -2.24, hi: 0.02, labelX: 241, labels: [["0.0", 560], ["-0.5", 581.7], ["-1.0", 603.5], ["-1.5", 625.5], ["-2.0", 647.7]] } },
  { letter: "F", lx: 256, ly: 495, title: "GO:0006595", tx: 335.3, ty: 501, dots: [[323.7, 495.7, interventionColors[0]]], L: 296, R: 459.3, T: 510.7, B: 688, border: "#7f7f7f", bw: 1, col: 6,
    bar: { x: 467, y0: 559, y1: 658, lo: -2.03, hi: 0.1, labelX: 481.7, labels: [["0.0", 563.7], ["-0.5", 586.3], ["-1.0", 609.7], ["-1.5", 633], ["-2.0", 656.7]] } },
];

const legendYs = [71.3, 96.3, 120.7, 145.7, 170.3];
const AXW = 30, AXH = 25, PAD = 5;

function PanelChart({ p }: { p: Panel }) {
  const data = groups.flatMap((g) =>
    g.rows.map((r) => ({
      x: r[0],
      y: r[1],
      fill: p.col < 0 ? interventionColors[g.cat] : colorFor(r[p.col], p.bar!.lo, p.bar!.hi),
    }))
  );
  const w = p.R - p.L;
  const h = p.B - p.T;
  const tick = { fontSize: 12.5, fill: "#4d4d4d", fontFamily: FONT };
  return (
    <div style={{ position: "absolute", left: p.L - AXW, top: p.T - PAD }}>
      <ScatterChart width={AXW + w + PAD} height={PAD + h + AXH} margin={{ top: PAD, right: PAD, left: 0, bottom: 0 }}>
        <CartesianGrid stroke="#ededed" strokeWidth={0.6} horizontalValues={yMinor} verticalValues={xMinor} />
        <CartesianGrid stroke="#ebebeb" strokeWidth={1.1} horizontalValues={yTicks} verticalValues={xTicks} />
        <XAxis type="number" dataKey="x" domain={xDomain} ticks={xTicks} tickFormatter={minus} tick={tick} tickSize={3} axisLine={false} tickLine={{ stroke: "#333333" }} height={AXH} interval={0} />
        <YAxis type="number" dataKey="y" domain={yDomain} ticks={yTicks} tickFormatter={minus} tick={tick} tickSize={3} axisLine={false} tickLine={{ stroke: "#333333" }} width={AXW} interval={0} />
        <Scatter
          data={data}
          isAnimationActive={false}
          shape={(s: any) => <circle cx={s.cx} cy={s.cy} r={3.0} fill={s.payload.fill} fillOpacity={0.62} />}
        />
      </ScatterChart>
    </div>
  );
}

function Overlay() {
  return (
    <svg width={509} height={704} style={{ position: "absolute", left: 0, top: 0, pointerEvents: "none" }} fontFamily={FONT}>
      <defs>
        <linearGradient id="cbar" x1="0" y1="0" x2="0" y2="1">
          <stop offset="0" stopColor="#56B1F7" />
          <stop offset="0.5" stopColor="#326E9D" />
          <stop offset="1" stopColor="#132B43" />
        </linearGradient>
      </defs>
      {panels.map((p) => (
        <g key={p.letter}>
          <rect x={p.L} y={p.T} width={p.R - p.L} height={p.B - p.T} fill="none" stroke={p.border} strokeWidth={p.bw} />
          <text x={p.lx} y={p.ly} fontSize={21} fill="#000">{p.letter}</text>
          <text x={p.tx} y={p.ty} fontSize={14.8} fill="#000">{p.title}</text>
          {p.dots.map((d, i) => <circle key={i} cx={d[0]} cy={d[1]} r={6.3} fill={d[2]} />)}
          {p.bar && (
            <g>
              <rect x={p.bar.x} y={p.bar.y0} width={9} height={p.bar.y1 - p.bar.y0} fill="url(#cbar)" />
              {p.bar.labels.map(([t, y]) => (
                <g key={t}>
                  <line x1={p.bar!.x} x2={p.bar!.x + 1.8} y1={y} y2={y} stroke="#fff" strokeWidth={0.5} />
                  <line x1={p.bar!.x + 7.2} x2={p.bar!.x + 9} y1={y} y2={y} stroke="#fff" strokeWidth={0.5} />
                  <text x={p.bar!.labelX} y={y + 3.7} fontSize={10.5} fill="#000">{minus(t)}</text>
                </g>
              ))}
            </g>
          )}
        </g>
      ))}
      {interventions.map((name, i) => (
        <g key={name}>
          <circle cx={196.7} cy={legendYs[i]} r={6.5} fill={interventionColors[i]} />
          <text x={217} y={legendYs[i] + 4.3} fontSize={12.4} fill="#000">{name}</text>
        </g>
      ))}
      <text x={116} y={246} fontSize={15.5} textAnchor="middle" fill="#000">UMAP1</text>
      <text transform="translate(26,123) rotate(-90)" fontSize={15.5} textAnchor="middle" fill="#000">UMAP2</text>
    </svg>
  );
}

export default function App() {
  return (
    <div style={{ position: "absolute", left: 0, top: 0, width: 509, height: 704, background: "#fff", fontFamily: FONT, overflow: "hidden" }}>
      {panels.map((p) => <PanelChart key={p.letter} p={p} />)}
      <Overlay />
    </div>
  );
}
